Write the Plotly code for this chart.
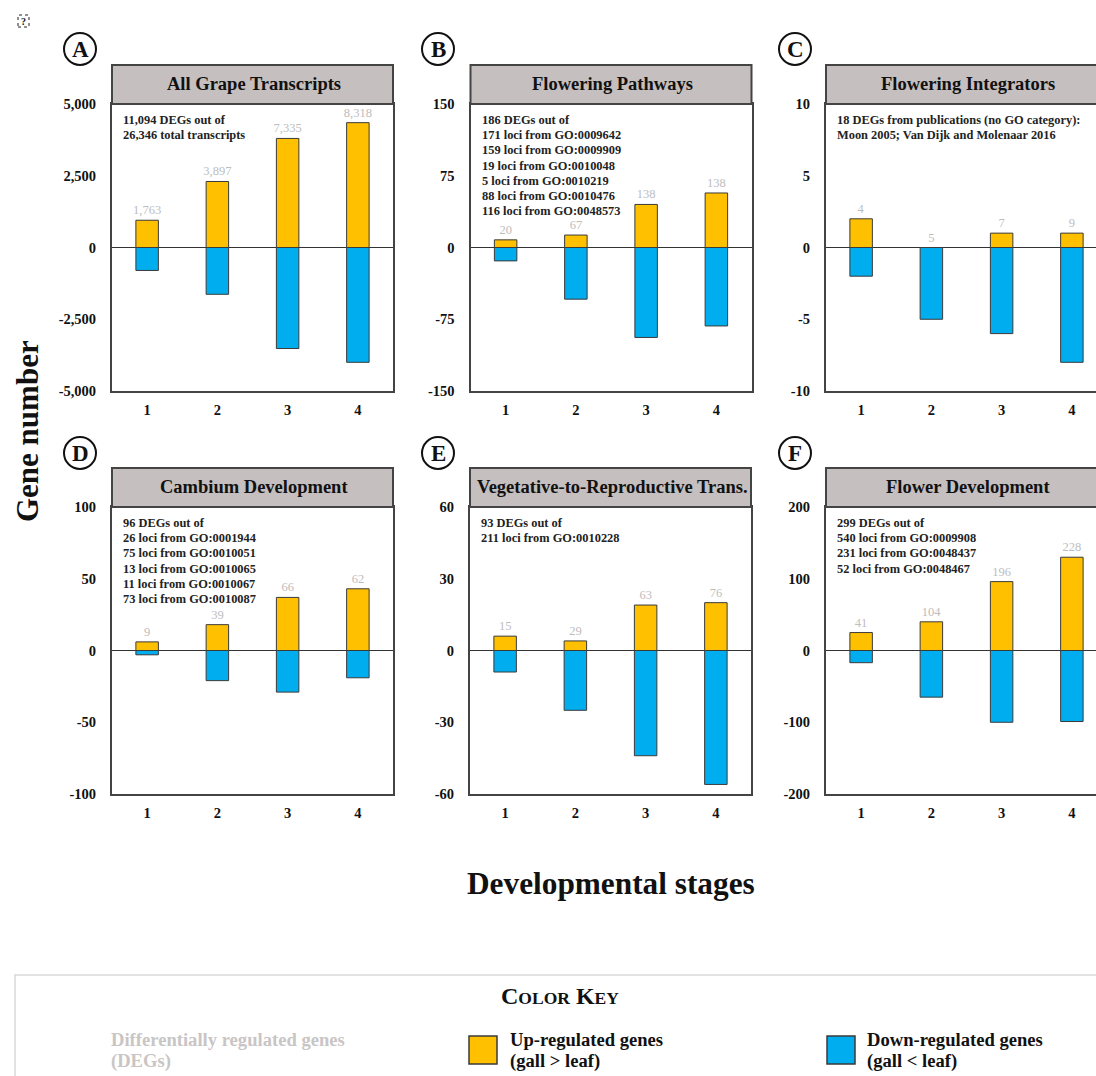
import plotly.graph_objects as go

W, H = 1096, 1076
FONT = "Liberation Serif"
UP = "#FFC000"
DOWN = "#00AEEF"
EDGE = "#3a3a3a"
HEAD = "#C5BFBF"
COUNT = "#BDBDBD"

stages = [1, 2, 3, 4]
letters = ["A", "B", "C", "D", "E", "F"]
titles = ["All Grape Transcripts", "Flowering Pathways", "Flowering Integrators",
          "Cambium Development", "Vegetative-to-Reproductive Trans.", "Flower Development"]
up_a = [950, 2300, 3800, 4350]
down_a = [-800, -1630, -3520, -4000]
total_a = ["1,763", "3,897", "7,335", "8,318"]
up_b = [8, 13, 45, 57]
down_b = [-14, -54, -94, -82]
total_b = ["20", "67", "138", "138"]
up_c = [2, 0, 1, 1]
down_c = [-2, -5, -6, -8]
total_c = ["4", "5", "7", "9"]
up_d = [6, 18, 37, 43]
down_d = [-3, -21, -29, -19]
total_d = ["9", "39", "66", "62"]
up_e = [6, 4, 19, 20]
down_e = [-9, -25, -44, -56]
total_e = ["15", "29", "63", "76"]
up_f = [25, 40, 96, 130]
down_f = [-17, -65, -100, -99]
total_f = ["41", "104", "196", "228"]
limits = [5000, 150, 10, 100, 60, 200]
ticks_a = ["-5,000", "-2,500", "0", "2,500", "5,000"]
notes = [
    ["11,094 DEGs out of", "26,346 total transcripts"],
    ["186 DEGs out of", "171 loci from GO:0009642", "159 loci from GO:0009909", "19 loci from GO:0010048",
     "5 loci from GO:0010219", "88 loci from GO:0010476", "116 loci from GO:0048573"],
    ["18 DEGs from publications (no GO category):", "Moon 2005; Van Dijk and Molenaar 2016"],
    ["96 DEGs out of", "26 loci from GO:0001944", "75 loci from GO:0010051", "13 loci from GO:0010065",
     "11 loci from GO:0010067", "73 loci from GO:0010087"],
    ["93 DEGs out of", "211 loci from GO:0010228"],
    ["299 DEGs out of", "540 loci from GO:0009908", "231 loci from GO:0048437", "52 loci from GO:0048467"],
]
ups = [up_a, up_b, up_c, up_d, up_e, up_f]
downs = [down_a, down_b, down_c, down_d, down_e, down_f]
totals = [total_a, total_b, total_c, total_d, total_e, total_f]

lefts = [112, 470.5, 826, 112, 470, 826]
tops = [104, 104, 104, 507, 507, 507]
badge_x = [80, 438, 795, 80, 438, 795]
badge_y = [49, 49, 49, 453, 453, 453]
PW, PH, HH, STEP = 281, 287, 39, 70.25


def px(x):
    return x / W


def py(y):
    return 1 - y / H


fig = go.Figure()
shapes, notes_out = [], []


def text(x, y, s, size, color="#111", anchor="center", **kw):
    notes_out.append(dict(x=px(x), y=py(y), xref="paper", yref="paper", text=s, showarrow=False,
                          xanchor=anchor, yanchor="middle", align=anchor,
                          font=dict(family=FONT, size=size, color=color), **kw))


for i in range(6):
    n = "" if i == 0 else str(i + 1)
    L, T = lefts[i], tops[i]
    R = min(L + PW, W)
    xmax = 0.5 + (R - L) / STEP
    dom_x = [px(L), px(R)]
    dom_y = [py(T + PH), py(T)]
    lim = limits[i]
    vals = [-lim, -lim / 2, 0, lim / 2, lim]
    labels = ticks_a if i == 0 else [str(int(v)) for v in vals]
    fig.add_trace(go.Bar(x=stages, y=ups[i], xaxis="x" + n, yaxis="y" + n, width=0.32,
                         marker=dict(color=UP, line=dict(color=EDGE, width=1)),
                         text=totals[i], textposition="outside", constraintext="none",
                         textfont=dict(family=FONT, size=12.5, color=COUNT), cliponaxis=False,
                         showlegend=False, hoverinfo="x+y"))
    fig.add_trace(go.Bar(x=stages, y=downs[i], xaxis="x" + n, yaxis="y" + n, width=0.32,
                         marker=dict(color=DOWN, line=dict(color=EDGE, width=1)),
                         showlegend=False, hoverinfo="x+y"))
    axis_line = dict(showline=True, linecolor="#444", linewidth=2, mirror=True, showgrid=False, automargin=False,
                     ticks="outside", tickcolor="rgba(0,0,0,0)",
                     tickfont=dict(family=FONT, size=14.5, color="#111"))
    fig.update_layout({
        "xaxis" + n: dict(domain=dom_x, range=[0.5, xmax], tickvals=stages,
                          ticktext=["<b>%d</b>" % s for s in stages], ticklen=5,
                          anchor="y" + n, zeroline=False, **axis_line),
        "yaxis" + n: dict(domain=dom_y, range=[-lim, lim], tickvals=vals,
                          ticktext=["<b>%s</b>" % t for t in labels], ticklen=11, anchor="x" + n,
                          zeroline=True, zerolinecolor="#333", zerolinewidth=1, **axis_line),
    })
    shapes.append(dict(type="rect", xref="paper", yref="paper", x0=px(L), x1=px(R + (3 if R == W else 0)),
                       y0=py(T), y1=py(T - HH), fillcolor=HEAD, line=dict(color="#444", width=2)))
    text(L + 142, T - 20, "<b>%s</b>" % titles[i], 18.5)
    for j, line in enumerate(notes[i]):
        text(L + 9, T + 16 + j * 15.2, "<b>%s</b>" % line, 12.4, color="#222", anchor="left")
    cx, cy = badge_x[i], badge_y[i]
    shapes.append(dict(type="circle", xref="paper", yref="paper", x0=px(cx - 16), x1=px(cx + 16),
                       y0=py(cy + 16), y1=py(cy - 16), fillcolor="white", line=dict(color="#111", width=2)))
    text(cx, cy, "<b>%s</b>" % letters[i], 23)

text(27, 431, "<b>Gene number</b>", 31, textangle=-90)
text(611, 883, "<b>Developmental stages</b>", 31.3)

# broken-image marker
shapes.append(dict(type="rect", xref="paper", yref="paper", x0=px(18), x1=px(29), y0=py(27), y1=py(15),
                   fillcolor="white", line=dict(color="#222", width=1, dash="dot")))
text(23.5, 21, "<b>?</b>", 10)

# colour key
shapes.append(dict(type="rect", xref="paper", yref="paper", x0=px(15), x1=px(W + 5), y0=py(H + 10), y1=py(975),
                   fillcolor="white", line=dict(color="#D9D9D9", width=1.5), layer="below"))
text(560, 996, '<b>C<span style="font-size:17.5px">OLOR</span> K<span style="font-size:17.5px">EY</span></b>', 24)
key_x = [109, 508, 865]
key_lines = [["Differentially regulated genes", "(DEGs)"], ["Up-regulated genes", "(gall > leaf)"],
             ["Down-regulated genes", "(gall < leaf)"]]
key_colors = ["#C9C5C5", "#111", "#111"]
for x, pair, c in zip(key_x, key_lines, key_colors):
    for j, line in enumerate(pair):
        safe = line.replace("<", "&lt;").replace(">", "&gt;")
        text(x, 1039 + j * 22, "<b>%s</b>" % safe, 18.6, color=c, anchor="left")
for x0, col in [(469, UP), (827, DOWN)]:
    shapes.append(dict(type="rect", xref="paper", yref="paper", x0=px(x0), x1=px(x0 + 28), y0=py(1064), y1=py(1036),
                       fillcolor=col, line=dict(color=EDGE, width=1.5)))

fig.update_layout(width=W, height=H, margin=dict(l=0, r=0, t=0, b=0), barmode="overlay",
                  paper_bgcolor="white", plot_bgcolor="white", shapes=shapes, annotations=notes_out,
                  font=dict(family=FONT))
fig.write_html("out.html", config=dict(displayModeBar=False),
               post_script="document.body.style.margin='0';document.documentElement.style.overflow='hidden';")
